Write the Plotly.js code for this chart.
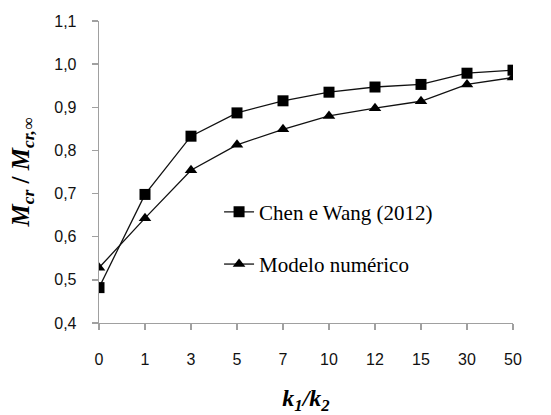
<!DOCTYPE html>
<html>
<head>
<meta charset="utf-8">
<script src="https://cdn.plot.ly/plotly-3.0.1.min.js"></script>
<style>html,body{margin:0;padding:0;background:#fff;}#chart{width:551px;height:415px;}</style>
</head>
<body>
<div id="chart"></div>
<script>
const categories = ['0','1','3','5','7','10','12','15','30','50'];
const chenWang = [0.482, 0.698, 0.833, 0.887, 0.915, 0.935, 0.947, 0.953, 0.979, 0.986];
const modeloNumerico = [0.528, 0.643, 0.754, 0.813, 0.849, 0.880, 0.898, 0.914, 0.953, 0.969];
const yTickVals = [0.4, 0.5, 0.6, 0.7, 0.8, 0.9, 1.0, 1.1];
const yTickText = ['0,4', '0,5', '0,6', '0,7', '0,8', '0,9', '1,0', '1,1'];

const lineColor = '#111';
const traces = [
  {
    x: categories, y: chenWang, name: 'Chen e Wang (2012)', mode: 'lines+markers',
    line: {color: lineColor, width: 1.3},
    marker: {symbol: 'square', size: 11, color: '#000'},
    legend: 'legend'
  },
  {
    x: categories, y: modeloNumerico, name: 'Modelo numérico', mode: 'lines+markers',
    line: {color: lineColor, width: 1.3},
    marker: {symbol: 'triangle-up', size: 11, color: '#000'},
    legend: 'legend2'
  }
];

const serif = '"Liberation Serif", "Times New Roman", serif';
const sans = '"Liberation Sans", Arial, sans-serif';
const legendFont = {family: serif, size: 21, color: '#000'};
const layout = {
  width: 551, height: 415,
  font: {family: serif, size: 20, color: '#000'},
  margin: {l: 99, r: 38, t: 21, b: 92},
  paper_bgcolor: '#fff', plot_bgcolor: '#fff',
  showlegend: true,
  legend: {x: 0.29, y: 0.367, xanchor: 'left', yanchor: 'middle', font: legendFont, bgcolor: 'rgba(0,0,0,0)'},
  legend2: {x: 0.29, y: 0.194, xanchor: 'left', yanchor: 'middle', font: legendFont, bgcolor: 'rgba(0,0,0,0)'},
  xaxis: {
    type: 'category', range: [0, 9], showgrid: false, zeroline: false,
    showline: true, linecolor: '#a0a0a0', linewidth: 1.3,
    ticks: 'outside', ticklen: 6, tickcolor: '#a0a0a0', tickwidth: 1.3,
    ticklabelstandoff: 15,
    tickfont: {family: sans, size: 16, color: '#111'},
    title: {text: '<b><i>k</i></b><sub><b><i>1</i></b></sub><b><i>/k</i></b><sub><b><i>2</i></b></sub>',
            font: {family: serif, size: 24, color: '#000'}, standoff: 29}
  },
  yaxis: {
    range: [0.4, 1.1], tickvals: yTickVals, ticktext: yTickText,
    showgrid: false, zeroline: false,
    showline: true, linecolor: '#a0a0a0', linewidth: 1.3,
    ticks: 'outside', ticklen: 6, tickcolor: '#a0a0a0', tickwidth: 1.3,
    ticklabelstandoff: 12,
    tickfont: {family: sans, size: 16, color: '#111'},
    title: {text: '<b><i>M</i></b><sub><b><i>cr</i></b></sub><b> / </b><b><i>M</i></b><sub><b><i>cr,∞</i></b></sub>',
            font: {family: serif, size: 25, color: '#000'}, standoff: 17}
  }
};

Plotly.newPlot('chart', traces, layout, {displayModeBar: false, staticPlot: true});
</script>
</body>
</html>
